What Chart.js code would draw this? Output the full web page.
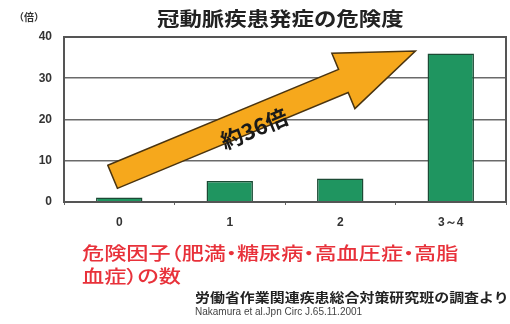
<!DOCTYPE html>
<html>
<head>
<meta charset="utf-8">
<script src="https://cdn.jsdelivr.net/npm/chart.js@4"></script>
<style>
	body { margin: 0; background: #fff; }
	#wrap { position: relative; width: 510px; height: 324px; overflow: hidden; font-family: "Noto Sans CJK JP", sans-serif; }
	canvas { position: absolute; left: 0; top: 0; }
	.txt { position: absolute; white-space: nowrap; transform-origin: 0 0; }
	#title { left: 157px; top: 4px; font-size: 19px; font-weight: bold; color: #222; transform: scaleX(1.18); }
	#unit { left: 14px; top: 9px; font-size: 10px; font-weight: bold; color: #333; }
	#factor { left: 82px; top: 241px; font-size: 18px; line-height: 23px; font-weight: 500; color: #e8313a; transform: scaleX(1.23); font-feature-settings: "palt"; }
	#source { left: 195px; top: 287px; font-size: 13px; font-weight: bold; color: #222; transform: scaleX(1.15); }
	#cite { left: 195px; top: 306px; font-size: 10px; color: #444; font-family: "Liberation Sans", sans-serif; }
</style>
</head>
<body>
<div id="wrap">
	<canvas id="riskChart" width="510" height="324"></canvas>
	<div class="txt" id="title">冠動脈疾患発症の危険度</div>
	<div class="txt" id="unit">（倍）</div>
	<div class="txt" id="factor">危険因子（肥満・糖尿病・高血圧症・高脂<br>血症）の数</div>
	<div class="txt" id="source">労働省作業関連疾患総合対策研究班の調査より</div>
	<div class="txt" id="cite">Nakamura et al.Jpn Circ J.65.11.2001</div>
</div>
<script>
const categories = ['0', '1', '2', '3～4'];
const riskValues = [1.1, 5.1, 5.7, 36];
const yTicks = [0, 10, 20, 30, 40];
const arrowLabel = '約36倍';

// arrow runs from near the first bar up to the last one (in category / value units)
const arrowFrom = { x: -0.06, y: 6.1 };
const arrowTo = { x: 2.68, y: 36.6 };

const boxPlugin = {
	id: 'box',
	afterDatasetsDraw(chart) {
		const { ctx, chartArea: a, scales } = chart;
		ctx.save();
		ctx.strokeStyle = '#555';
		ctx.lineWidth = 2;
		ctx.strokeRect(a.left, a.top, a.right - a.left, a.bottom - a.top);

		// the big orange arrow
		const x0 = scales.x.getPixelForValue(arrowFrom.x);
		const y0 = scales.y.getPixelForValue(arrowFrom.y);
		const x1 = scales.x.getPixelForValue(arrowTo.x);
		const y1 = scales.y.getPixelForValue(arrowTo.y);
		const len = Math.hypot(x1 - x0, y1 - y0);
		const ang = Math.atan2(y1 - y0, x1 - x0);
		const shaft = 12.5, head = 30, headLen = 78;
		ctx.translate(x0, y0);
		ctx.rotate(ang);
		ctx.beginPath();
		ctx.moveTo(0, -shaft);
		ctx.lineTo(len - headLen, -shaft);
		ctx.lineTo(len - headLen, -head);
		ctx.lineTo(len, 0);
		ctx.lineTo(len - headLen, head);
		ctx.lineTo(len - headLen, shaft);
		ctx.lineTo(0, shaft);
		ctx.closePath();
		ctx.fillStyle = '#f6a81c';
		ctx.fill();
		ctx.strokeStyle = '#4a3410';
		ctx.lineWidth = 1.5;
		ctx.stroke();

		ctx.fillStyle = '#1a1a1a';
		ctx.font = 'bold 22px "Noto Sans CJK JP"';
		ctx.textAlign = 'center';
		ctx.textBaseline = 'middle';
		ctx.fillText(arrowLabel, len * 0.455, 10);
		ctx.restore();
	}
};

new Chart(document.getElementById('riskChart'), {
	type: 'bar',
	data: {
		labels: categories,
		datasets: [{
			data: riskValues,
			backgroundColor: '#1f9560',
			borderColor: '#1b4a34',
			borderWidth: 1.5,
			categoryPercentage: 1,
			barPercentage: 0.42
		}]
	},
	options: {
		responsive: false,
		animation: false,
		layout: { padding: { top: 37, right: 4, left: 0, bottom: 0 } },
		plugins: {
			legend: { display: false },
			tooltip: { enabled: false }
		},
		scales: {
			x: {
				afterFit(scale) { scale.height = 122; },
				grid: { display: true, drawOnChartArea: false, tickLength: 3, color: '#666', offset: true },
				border: { color: '#555', width: 2 },
				ticks: {
					color: '#333',
					padding: 10,
					font: { size: 12, weight: 'bold', family: 'Liberation Sans' }
				}
			},
			y: {
				min: 0,
				max: 40,
				afterFit(scale) { scale.width = 64; },
				afterBuildTicks(scale) { scale.ticks = yTicks.map(v => ({ value: v })); },
				grid: { color: '#6a6a6a', lineWidth: 1.6, drawTicks: false },
				border: { color: '#555', width: 2 },
				ticks: {
					color: '#333',
					padding: 12,
					font: { size: 12, weight: 'bold', family: 'Liberation Sans' }
				}
			}
		}
	},
	plugins: [boxPlugin]
});
</script>
</body>
</html>
